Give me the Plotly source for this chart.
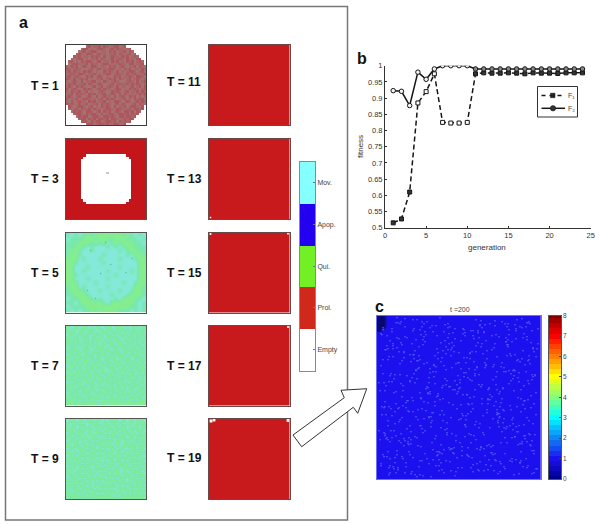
import plotly.graph_objects as go

W, H = 600, 524
FONT = "Liberation Sans"

# ---------- data ----------
generation = list(range(1, 25))
F1 = [.515, .527, .61, .885, .92, .975, .825, .823, .823, .825, .975, .978,
      .977, .977, .978, .977, .975, .978, .977, .977, .976, .978, .978, .978]
F2 = [.923, .921, .877, .98, .958, .99, 1, 1, 1, 1, .99, .99,
      .99, .99, .99, .99, .99, .99, .99, .99, .99, .99, .99, .99]
fit_ticks = [.5, .55, .6, .65, .7, .75, .8, .85, .9, .95, 1]
fit_labels = ["0.5", "0.55", "0.6", "0.65", "0.7", "0.75", "0.8", "0.85", "0.9", "0.95", "1"]
state_labels = ["Empty", "Prol.", "Qui.", "Apop.", "Mov."]
state_colors = ["#ffffff", "#d0281a", "#72f025", "#2400f0", "#85ffff"]

T1 = [
    "........abcaabcbacabbcab........",
    "......abbcacabbacabcbaacab......",
    ".....cabcabbacaacbabcaabcba.....",
    "....abacbbacabcacaabcbacabca....",
    "...babcaacbabacbcabaacbabcaba...",
    "..acabbcacaabcbacabcabacbaacbb..",
    ".abcacbabbacabcaacbabcacbabcaba.",
    ".cabbacabcbaacabbcacabaacbbcaab.",
    "acbabcabacbbacaacbabcabacaabcbac",
    "bacabacccabcabcaabbacacbabcaacba",
    "abcbaacbabacaccbabacbcacabbacabc",
    "cabacbbacaabcacabbcabaacbcabacab",
    "abcabaccbabcabacaccbabcaabacbbac",
    "bacbcababcacaabcababcbacabcabaca",
    "acabacbcaabbcacbacabacccabacbcab",
    "cbabcaabcbacabaccabcabaabcbabaca",
    "abacbabaccabcabcabacbcaacabcabcb",
    "bcabaccbabacabcbaacabbcacbabacab",
    "acbaabcabcaccabaccbabacabcaabcba",
    "cabcbabacbabcaabcabacbcbacacabab",
    "abacabccabacbcabaacbcabacbabcaca",
    "bcaabcabbacacabcbabacaabcacbabbc",
    "acbcabaacbabcaabcacbbacabacababa",
    "babacbcabcaabcbabacabcbaccabcbac",
    ".bacabbacabcacbabacbcaabcabbacb.",
    ".acabcbaabcbaacabbacbbacabcbbab.",
    "..cbabacbbacabcbabcabacbbabcba..",
    "...abbacbabbacbcabbcabbabcbab...",
    "....cbabbcabbacbbabacbbabbab....",
    ".....abbcbabcbbabcbbacababb.....",
    "......bbacbabbcabbabcbabab......",
    "........abbcabbabcabbcab........",
]
T3 = (["r" * 32] * 6 + [
    "rrrrrrrr................rrrrrrrr",
    "rrrrrrr..................rrrrrrr",
] + ["rrrrrr....................rrrrrr"] * 5 + [
    "rrrrrr..........x.........rrrrrr",
] + ["rrrrrr....................rrrrrr"] * 10 + [
    "rrrrrrr..................rrrrrrr",
    "rrrrrrrr................rrrrrrrr",
] + ["r" * 32] * 6)
T5 = [
    "mcmcmgmgggggggmgmcmc",
    "cmmmgggmgggmgggmmmcm",
    "mmmgggmgmgcmgmgggmmc",
    "mmggmcmcccmcmcmggmmm",
    "mggmccmccccccmcmggmm",
    "mggmcccccmcccccmcggm",
    "gggcmcccmccccmcccmgg",
    "ggmccccccmccccccccgg",
    "ggcccmcccccccmccccgg",
    "ggccmcccccmcccccmcgg",
    "ggmcccccccccmcccccgg",
    "ggcccmccccmcccccccgg",
    "gggccccmccccccmccmgg",
    "mggcmcccccmccccccggm",
    "mgggmcccmccccmccmggm",
    "mmgggmcccccmcccmgggm",
    "cmmgggmcmcccmcgggmmc",
    "mmcmgggggmcggggggmcm",
    "cmmmmgggggggggggmmcm",
    "mcmcmmgmgggggmmmcmcm",
]
T7 = [
    "gmcmgcmgmcmcgmcmmgcmgmgcmcmgmcgm",
    "mcgmcmgmcgmmcmgcgmmcmcgmgcmmcgmg",
    "gmmgcgmcmmgcmcmgmcgmgmcmcgmgmcmc",
    "cgmcmmgcgmcgmgmcmgcmcgmgmcmcgmgm",
    "mgcgmcmgmcmmcgmcgmmgmcmcgmgcmgcm",
    "gcmmgmcmgcgmgmcmcgcmgmcgmcmmgcmg",
    "mmgcmcgmmcmcgcmgmmgcmgmcgmgcmcgc",
    "gmcgmgmcgmgmmcgmcgmmcgmmcgcmgmcm",
    "cmgmcmcgmcmcggmcmcmgmcggmcmmcgmg",
    "gcmggcmmgmcgcmgmgmcmgcmcgmggmcmc",
    "mgmcmgcgmcmgmmcgcgmgmmcgmcmcgmgm",
    "cmgmgmcmgmgcmggmmcmcgmgmcgmgmccg",
    "gmcmcgmgcmmcgmcmgmgmcgmcgmcgmgmc",
    "mcgggmcmgcgmcmcgmcmgcmgmmgcmcgmg",
    "gmmcmcgggmcmggmcmgcmgmcgmcggmcmc",
    "cgmgmgmcmcggmcmgmcgmggmcgmmcgmgm",
    "mcgmcgcmgmmcgmgcmgmcmcmgcgmgmcgc",
    "gmcmggmcgcgmcmgmcmgmcgggmcmcgmgm",
    "cgmcmcggmmcgmcgcmcgmgmcmcgmmcgcm",
    "mggmgmcmcgmmgmcgmgcmcgmgmggcmgmg",
    "gcmcgmgmggcmcgmcmgmgmcmcgmcgmcmc",
    "mgmgcmcgmcmgmcgmgcmcgmgmcgmmgcgm",
    "cmcgmgmcgmgcmgmcgmmgmcgcmcgmcmgc",
    "gmgmcgcmcgmmcgcmcgmcmgmgmgcmgmcm",
    "mcgcmgmgmcgcmgmgmcgcgmcmcmgmcgmg",
    "gmcgmcmgcmgmcmcgmgmmcgmgcgmcmgmc",
    "cgmmgcgmgmcgmgmcgcmgmcgcmcgmgcgm",
    "mgmcgmcmcgmcmcggmgmcmgmgmgcmcmgc",
    "gcmgmgmcgmgmgmcmcmgcgmcmcgmggmcm",
    "mggcmcgmcmcgcmggmgmmgcgmgmcmcmgg",
    "gmgmgcgmggmgmcgmcgggmgmcgggmgggm",
    "mggmggmgmgggmgmggmgmggggmgmggmgg",
]
T9 = [
    "cmgmcmgcmgmcgmcmcgmgmcmgcmgcmgmc",
    "gmcgmgcmcgmgmcmgmcgmcgmcmgmcgmgm",
    "mcmgcmgmcmcgmgcmgmcgmcmgcmcgmcmg",
    "gcgmcmcgmgmcmcgcmgmcgmgmcgmmgcgm",
    "mgmcgmgmcgcmgmcmgcmgmcmgmcgcmgmc",
    "cmgmcgmcmgmcgmgcmcgmcgmcgmgmcmcg",
    "gmcmgmcgcmgmcmcgmgmgmcgmcmgcgmgm",
    "mcgmcgmgmcgmgcmcmcgcmgmgcgmcmcgc",
    "cgmgmcmcgmcmcgmgmgmcgmcmgmcgmgmg",
    "mgcmgcgmcmgmgmcgcmcmgmcgmcgcmcmc",
    "gmcgmmcgmgcmcgmgmgmcgcmgmgmgcgmg",
    "cmgcmgmgcmgmcgcmcmgmcmgccmgmcmgc",
    "gmcmcgmcgmcgmgmgmcgcgmcmgcgmgmcm",
    "mgmgmcgmcmgmcmcgmgmcmgmgcmcmcggm",
    "cgcmcgmgmgcgmgmcmcgmgcmcgmgmgmcc",
    "gmgmgmcmcmgmcgcgmgmcmgmgmcgcmcgm",
    "mcmcgcgmgcmcgmcmcmgcgmcmcgmgmgmc",
    "gmgmgmcmcgmgcmgmgcmgcmgmgcmcmcgm",
    "cmcgcmgmgmcmgcmcmgmcmgcgmcgmgmcg",
    "gmgmcgcmcgcgmgmgcmcgmcmgmgcmcgmg",
    "mcgcmgmgmgmcmcmcgmgmgmcgcmgmgmcm",
    "gmcmgmcmcgmgcgmgmcmcgcmgmcgmcgmc",
    "cgmgcgmgmcmcmcgcmgmgmgcmgmcmgmgm",
    "mcmgmcmcgmgmgmgmcgcmcmgmcgmgcmcg",
    "gmgcgmgmcgcmcmcmgmgmgcgmcmcgmgmc",
    "cmcmgmcgmgmgmgmcgcmcmgmgmgmcmcgm",
    "gmgmcmgmcmcgcgmgmgmgcmcmcgmgmgmc",
    "mcgmgcmgmgmcmcmcgcmcmgmgmcmcgmcg",
    "gmcmgmgcmcgmgmgmgmgmcgcmgmgmgmgm",
    "cgmgcmcmgmgmcmcmcgcgmgmcmcmcgcmc",
    "gmgmgmgmcgcgmgmgmgmcmcmgmgmgmgmg",
    "mgmgmgcmgmgmgmgmgmgmgmgmgmgmgmgm",
]
T13_empty = [(1.5, 78.5)]
T15_empty = [(1.5, 1.5), (78.5, 1)]
T17_empty = [(78.5, 1.5)]
T19_empty = [(2, 2), (5, 1), (78.5, 1.5)]
T5_spots_x = [35, 25, 40, 66, 60, 22, 30, 45]
T5_spots_y = [41, 18, 10, 26, 40, 58, 66, 32]
C = ["0011", "0011", "0011", "0111"]
C_speckle_x = [4, 12, 21, 33, 46, 58, 71, 84, 97, 110, 122, 135, 150, 158, 9, 27, 39, 52, 66, 78, 91, 104, 118, 129, 143, 155,
               3, 17, 30, 44, 57, 69, 83, 96, 107, 120, 133, 147, 160, 11, 24, 36, 49, 63, 75, 88, 101, 114, 126, 139, 152,
               6, 19, 32, 42, 55, 68, 80, 93, 106, 117, 131, 144, 157, 14, 28, 40, 53, 61, 74, 86, 99, 112, 124, 137, 149,
               2, 16, 26, 38, 50, 64, 77, 90, 103, 115, 128, 141, 154, 8, 22, 35, 47, 59, 72, 85, 95, 109, 121, 134, 146, 159,
               13, 25, 37, 51, 62, 76, 89, 100, 113, 125, 138, 151, 5, 18, 31, 43, 56, 70, 82, 94, 105, 119, 132, 145, 156,
               10, 23, 34, 48, 60, 73, 87, 98, 111, 123, 136, 148, 161, 7, 20, 29, 41, 54, 67, 79, 92, 102, 116, 127, 140, 153,
               15, 45, 65, 81, 108, 130, 142, 12, 33, 58, 91, 118, 143, 6, 27, 52, 78, 104, 129, 155, 19, 44, 69, 96, 120, 147]
C_speckle_y = [18, 41, 7, 66, 29, 90, 12, 53, 120, 35, 78, 104, 21, 60, 99, 130, 55, 148, 83, 23, 140, 71, 10, 113, 46, 135,
               75, 153, 22, 110, 61, 38, 127, 93, 16, 56, 145, 85, 33, 124, 68, 15, 95, 137, 52, 109, 27, 150, 73, 13, 118,
               44, 88, 136, 31, 105, 9, 142, 64, 117, 49, 24, 96, 157, 58, 11, 122, 76, 43, 155, 100, 36, 129, 87, 54, 143,
               115, 28, 70, 159, 47, 112, 30, 79, 146, 20, 138, 62, 92, 34, 125, 82, 8, 51, 132, 98, 65, 25, 107, 40, 151, 77,
               150, 102, 39, 72, 144, 17, 57, 133, 84, 6, 121, 45, 91, 59, 126, 14, 97, 119, 37, 152, 69, 86, 19, 128, 108,
               141, 48, 116, 26, 81, 134, 42, 74, 154, 101, 63, 123, 13, 67, 32, 147, 94, 111, 50, 156, 89, 22, 139, 103, 4,
               8, 122, 93, 138, 60, 47, 127, 110, 152, 65, 40, 88, 28, 11, 139, 36, 102, 74, 131, 56, 158, 120, 83, 145, 15, 99]
C_values = {"0": 0.25, "1": 1.0}
c_bar_levels = [0, .25, .5, .75, 1, 1.25, 1.5, 1.75, 2, 2.25, 2.5, 2.75, 3, 3.25, 3.5, 3.75, 4,
                4.25, 4.5, 4.75, 5, 5.25, 5.5, 5.75, 6, 6.25, 6.5, 6.75, 7, 7.25, 7.5, 7.75, 8]
c_bar_ticks = [0, 1, 2, 3, 4, 5, 6, 7, 8]
JET = [[0, "#00008f"], [.125, "#1c10ee"], [.375, "#00ffff"], [.625, "#ffff00"], [.875, "#ff0000"], [1, "#800000"]]

# ---------- layout helpers ----------
def px(x):
    return x / W

def py(y):
    return 1 - y / H

fig = go.Figure()
layout = {}
shapes = []
annotations = []
axis_id = [0]

def new_axes(x0, y0, x1, y1, xopts, yopts):
    axis_id[0] += 1
    n = axis_id[0]
    sfx = "" if n == 1 else str(n)
    layout["xaxis" + sfx] = dict(domain=[px(x0), px(x1)], anchor="y" + sfx, **xopts)
    layout["yaxis" + sfx] = dict(domain=[py(y1), py(y0)], anchor="x" + sfx, **yopts)
    return "x" + sfx, "y" + sfx

def box_opts(rng, color):
    return dict(range=rng, showticklabels=False, ticks="", showgrid=False, zeroline=False,
                showline=True, mirror=True, linecolor=color, linewidth=1)

def grid_panel(x0, y0, rows, palette, scale, smooth=False, border="#555555"):
    n = len(rows)
    m = len(rows[0])
    xa, ya = new_axes(x0, y0, x0 + 80.5, y0 + 80, box_opts([-.5, m - .5], border), box_opts([n - .5, -.5], border))
    z = [[palette[c] for c in r] for r in rows]
    fig.add_trace(go.Heatmap(z=z, xaxis=xa, yaxis=ya, colorscale=scale, zmin=0, zmax=1, showscale=False,
                             zsmooth="best" if smooth else False, hoverinfo="skip"))
    return xa, ya

def red_panel(x0, y0, empties, size=2.5):
    border = "#6a4a48"
    xa, ya = new_axes(x0, y0, x0 + 80.5, y0 + 80, box_opts([0, 80], border), box_opts([80, 0], border))
    fig.add_trace(go.Heatmap(z=[[1]], x0=40, dx=84, y0=40, dy=84, xaxis=xa, yaxis=ya, showscale=False,
                             colorscale=[[0, "#c81a1c"], [1, "#c81a1c"]], hoverinfo="skip"))
    if empties:
        fig.add_trace(go.Scatter(x=[p[0] for p in empties], y=[p[1] for p in empties], mode="markers", xaxis=xa, yaxis=ya,
                                 marker=dict(color="#fff6f0", size=size, symbol="square", line=dict(width=0)),
                                 showlegend=False, hoverinfo="skip"))

def label(x, y, text, size, color="#111111", bold=True, anchor="left", angle=0):
    annotations.append(dict(x=px(x), y=py(y), xref="paper", yref="paper", text=f"<b>{text}</b>" if bold else text,
                            showarrow=False, xanchor=anchor, yanchor="middle", textangle=angle, borderpad=0,
                            font=dict(family=FONT, size=size, color=color)))

# ---------- panel a ----------
shapes.append(dict(type="rect", xref="paper", yref="paper", x0=px(5.5), x1=px(347.5), y0=py(520), y1=py(6.5),
                   line=dict(color="#777777", width=1.5), layer="below"))
scale_T1 = [[0, "#ffffff"], [.25, "#ffffff"], [.25, "#a9656a"], [.5, "#a9656a"], [.5, "#ad565c"], [.75, "#ad565c"], [.75, "#a57270"], [1, "#a57270"]]
grid_panel(65.5, 45, T1, {".": 0, "a": .4, "b": .6, "c": .9}, scale_T1, border="#3c3c3c")
scale_T3 = [[0, "#ffffff"], [.33, "#ffffff"], [.33, "#c4151a"], [.66, "#c4151a"], [.66, "#c9c9c9"], [1, "#c9c9c9"]]
grid_panel(65.5, 139, T3, {".": 0, "r": .5, "x": 1}, scale_T3, border="#6a4a48")
scale_mix = [[0, "#84ee8e"], [.5, "#78e8ae"], [1, "#84e9d8"]]
xa5, ya5 = grid_panel(65.5, 232.5, T5, {"g": 0, "m": .5, "c": 1}, scale_mix, smooth=True)
fig.add_trace(go.Scatter(x=[v / 4 - .5 for v in T5_spots_x], y=[v / 4 - .5 for v in T5_spots_y], mode="markers",
                         xaxis=xa5, yaxis=ya5, marker=dict(color="#5fb090", size=1.3, line=dict(width=0)),
                         showlegend=False, hoverinfo="skip"))
grid_panel(65.5, 325.5, T7, {"g": 0, "m": .5, "c": 1}, scale_mix, smooth=True)
grid_panel(65.5, 419, T9, {"g": 0, "m": .5, "c": 1}, scale_mix, smooth=True)

red_panel(209, 45, [])
red_panel(209, 139, T13_empty, 1.5)
red_panel(209, 232.5, T15_empty, 1.8)
red_panel(209, 325.5, T17_empty, 1.8)
red_panel(209, 419, T19_empty, 2.8)

for yc, t in zip([86, 179, 272.5, 366, 459], [1, 3, 5, 7, 9]):
    label(30, yc, f"T = {t}", 12)
for yc, t in zip([82, 179, 272.5, 366, 458], [11, 13, 15, 17, 19]):
    label(166, yc, f"T = {t}", 12)

# state colour bar
state_scale = []
for i, c in enumerate(state_colors):
    state_scale += [[i / 5, c], [(i + 1) / 5, c]]
xa, ya = new_axes(300, 162, 315, 370.5,
                  dict(range=[-.5, .5], showticklabels=False, ticks="", showgrid=False, zeroline=False,
                       showline=True, mirror=True, linecolor="#8a8a8a", linewidth=1),
                  dict(range=[-.5, 4.5], side="right", tickvals=list(range(5)), ticktext=state_labels,
                       ticks="inside", ticklen=2, tickwidth=1, tickcolor="#777777", showgrid=False, zeroline=False,
                       showline=True, mirror=True, linecolor="#8a8a8a", linewidth=1,
                       tickfont=dict(family=FONT, size=7, color="#444444")))
fig.add_trace(go.Heatmap(z=[[v] for v in range(5)], xaxis=xa, yaxis=ya, colorscale=state_scale, zmin=-.5, zmax=4.5,
                         showscale=False, hoverinfo="skip"))

# arrow
arrow = [(293, 435), (344.3, 397.7), (341, 390.3), (366.7, 388.7), (357.7, 413.3), (353.3, 407.3), (301.7, 446.7)]
path = "M " + " L ".join(f"{px(a):.4f} {py(b):.4f}" for a, b in arrow) + " Z"
shapes.append(dict(type="path", xref="paper", yref="paper", path=path, fillcolor="#ffffff", line=dict(color="#333333", width=1)))

# ---------- panel b ----------
font_b = dict(family=FONT, size=7.5, color="#333333")
xa, ya = new_axes(385, 65.7, 590.7, 227.7,
                  dict(range=[0, 25], tickvals=[0, 5, 10, 15, 20, 25], ticks="inside", ticklen=2, tickcolor="#333333",
                       showgrid=False, zeroline=False, showline=True, linecolor="#333333", linewidth=1, tickfont=font_b),
                  dict(range=[.5, 1], tickvals=fit_ticks, ticktext=fit_labels, ticks="inside", ticklen=2, tickcolor="#333333",
                       showgrid=False, zeroline=False, showline=True, linecolor="#333333", linewidth=1, tickfont=font_b))
F1_open = [False] * 3 + [True] * 7 + [False] * 14
F2_open = [True] * 10 + [False] * 14
fig.add_trace(go.Scatter(x=generation, y=F1, xaxis=xa, yaxis=ya, name="F1", mode="lines+markers", showlegend=False,
                         line=dict(color="#151515", width=1.5, dash="5px,3px"),
                         marker=dict(symbol="square", size=4, color=["#ffffff" if o else "#333333" for o in F1_open],
                                     line=dict(color="#151515", width=1))))
fig.add_trace(go.Scatter(x=generation, y=F2, xaxis=xa, yaxis=ya, name="F2", mode="lines+markers", showlegend=False,
                         line=dict(color="#151515", width=1.5),
                         marker=dict(symbol="circle", size=4.5, color=["#f2f2f2" if o else "#888888" for o in F2_open],
                                     line=dict(color="#151515", width=1))))
label(487, 247, "generation", 8, color="#333333", bold=False, anchor="center")
label(360, 147, "fitness", 8, color="#333333", bold=False, anchor="center", angle=-90)

# legend box
shapes += [
    dict(type="rect", xref="paper", yref="paper", x0=px(537.5), x1=px(577.5), y0=py(117), y1=py(86.5),
         line=dict(color="#333333", width=1), fillcolor="#ffffff"),
    dict(type="line", xref="paper", yref="paper", x0=px(541.5), x1=px(565), y0=py(95.5), y1=py(95.5),
         line=dict(color="#151515", width=1.5, dash="4px,4px")),
    dict(type="rect", xref="paper", yref="paper", x0=px(550.5), x1=px(555), y0=py(97.7), y1=py(93.2),
         fillcolor="#222222", line=dict(color="#151515", width=.5)),
    dict(type="line", xref="paper", yref="paper", x0=px(541.5), x1=px(565), y0=py(108.3), y1=py(108.3),
         line=dict(color="#151515", width=1.5)),
    dict(type="circle", xref="paper", yref="paper", x0=px(550.3), x1=px(555.7), y0=py(111), y1=py(105.6),
         fillcolor="#333333", line=dict(color="#151515", width=.5)),
]
label(566.5, 95.5, "F₁", 7, color="#444444", bold=False)
label(566.5, 108.5, "F₂", 7, color="#444444", bold=False)

# ---------- panel c ----------
xa, ya = new_axes(377, 315.7, 540.7, 479,
                  box_opts([0, 163.7], "#6a70f2"), box_opts([163.3, 0], "#6a70f2"))
fig.add_trace(go.Heatmap(z=[[1]], x0=81.85, dx=170, y0=81.65, dy=170, xaxis=xa, yaxis=ya, colorscale=JET, zmin=0, zmax=8,
                         showscale=False, hoverinfo="skip"))
fig.add_trace(go.Heatmap(z=[[C_values[c] for c in r] for r in C], x0=2, dx=4, y0=2, dy=4, xaxis=xa, yaxis=ya,
                         colorscale=[[0, "#0a0870"], [.2, "#0a0870"], [1, "#1c10ee"]], zmin=0.25, zmax=1,
                         zsmooth="best", showscale=False, hoverinfo="skip"))
sx = C_speckle_x + [163 - v for v in C_speckle_x] + C_speckle_y + [163 - v for v in C_speckle_y]
sy = C_speckle_y + C_speckle_y + [163 - v for v in C_speckle_x] + C_speckle_x
fig.add_trace(go.Scatter(x=sx, y=sy, mode="markers", xaxis=xa, yaxis=ya, showlegend=False, hoverinfo="skip",
                         marker=dict(color="#5468f8", size=1.6, line=dict(width=0))))
label(460, 309, "t =200", 7, color="#444444", bold=False, anchor="center")

# jet colour bar
xa, ya = new_axes(549, 315.7, 561, 479,
                  dict(range=[-.5, .5], showticklabels=False, ticks="", showgrid=False, zeroline=False,
                       showline=True, mirror=True, linecolor="#555555", linewidth=.5),
                  dict(range=[0, 8], side="right", tickvals=c_bar_ticks, ticks="inside", ticklen=2, tickcolor="#444444",
                       showgrid=False, zeroline=False, showline=True, mirror=True, linecolor="#555555", linewidth=.5,
                       tickfont=dict(family=FONT, size=6.5, color="#444444")))
fig.add_trace(go.Heatmap(z=[[v] for v in c_bar_levels], y=c_bar_levels, x=[0], xaxis=xa, yaxis=ya, colorscale=JET, zmin=0, zmax=8,
                         showscale=False, hoverinfo="skip"))

# ---------- panel letters ----------
label(18, 23, "a", 16)
label(356, 58, "b", 16)
label(373.5, 306, "c", 16)

fig.update_layout(width=W, height=H, autosize=False, margin=dict(l=0, r=0, t=0, b=0, pad=0, autoexpand=False),
                  paper_bgcolor="#ffffff", plot_bgcolor="#ffffff", showlegend=False,
                  shapes=shapes, annotations=annotations, **layout)
fig.write_html("out.html", config={"displayModeBar": False}, post_script="document.body.style.margin='0';")
